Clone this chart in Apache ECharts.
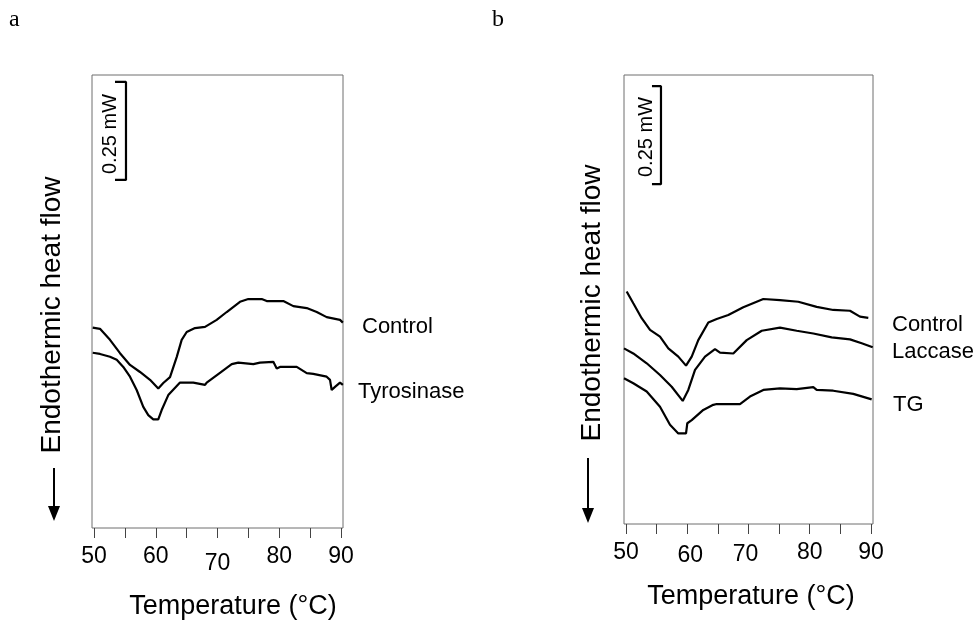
<!DOCTYPE html>
<html><head><meta charset="utf-8">
<script src="https://cdn.jsdelivr.net/npm/echarts@6/dist/echarts.min.js"></script>
<style>html,body{margin:0;padding:0;background:#fff}#c{width:979px;height:622px}</style>
</head><body><div id="c"></div>
<script>
// ---- axis ticks / labels ----
const xTickValues = [50, 55, 60, 65, 70, 75, 80, 85, 90];
const xLabelValues = [50, 60, 70, 80, 90];

// ---- panel a (temperature °C, heat flow mW relative) ----
const aControlT = [49.79,50.97,52.59,54.21,55.83,57.45,59.07,60.41,61.22,62.31,63.39,64.20,65.01,66.36,67.98,69.87,71.49,73.64,74.99,77.16,77.97,80.66,82.28,84.45,86.07,87.68,89.84,90.30];
const aControlMW = [0.511,0.508,0.480,0.446,0.416,0.398,0.378,0.356,0.370,0.385,0.436,0.480,0.500,0.510,0.513,0.531,0.551,0.577,0.584,0.584,0.579,0.579,0.566,0.561,0.551,0.538,0.531,0.524];
const aTyrT = [49.79,50.97,52.59,53.68,54.74,55.83,56.91,57.98,58.79,59.60,60.41,60.96,62.03,63.93,66.08,67.98,68.25,70.40,72.30,73.37,75.80,76.88,79.04,79.59,80.12,82.83,84.45,85.51,87.68,88.22,88.49,89.03,89.84,90.30];
const aTyrMW = [0.447,0.444,0.437,0.429,0.411,0.386,0.352,0.309,0.288,0.277,0.277,0.301,0.339,0.371,0.371,0.365,0.371,0.396,0.418,0.422,0.418,0.422,0.424,0.407,0.411,0.411,0.395,0.393,0.386,0.378,0.352,0.360,0.371,0.365];

// ---- panel b ----
const bControlT = [50.11,51.19,52.56,53.92,55.55,56.91,58.54,59.80,60.73,61.80,63.44,64.81,66.70,69.15,72.42,75.14,78.13,81.13,83.84,86.57,88.20,89.56];
const bControlMW = [0.593,0.563,0.525,0.495,0.478,0.448,0.427,0.404,0.427,0.469,0.514,0.523,0.533,0.553,0.574,0.571,0.567,0.554,0.546,0.544,0.529,0.526];
const bLaccaseT = [49.67,51.19,53.38,55.55,57.46,59.26,60.17,61.27,62.90,64.53,65.35,67.52,69.71,72.16,75.14,77.87,80.58,83.58,86.57,88.48,90.28];
const bLaccaseMW = [0.448,0.435,0.410,0.380,0.350,0.314,0.342,0.393,0.427,0.446,0.437,0.435,0.469,0.493,0.501,0.493,0.486,0.476,0.471,0.461,0.451];
const bTgT = [49.67,51.19,53.38,55.55,57.18,58.54,59.80,60.01,60.73,62.62,64.25,64.53,64.81,68.61,70.24,72.42,75.14,77.87,80.58,81.13,83.84,87.11,90.11];
const bTgMW = [0.372,0.359,0.338,0.299,0.253,0.231,0.231,0.257,0.265,0.291,0.304,0.309,0.306,0.306,0.325,0.342,0.346,0.344,0.349,0.342,0.340,0.332,0.318];

// ---- 0.25 mW scale bars ----
const scaleMW = 0.25;
const aScaleT = [53.40, 55.18, 55.18, 53.40];
const aScaleBase = 0.888;
const bScaleT = [54.24, 55.71, 55.71, 54.24];
const bScaleBase = 0.867;

function zip(xs, ys) { return xs.map((x, i) => [x, ys[i]]); }
function bar(ts, base) { return zip(ts, [base, base, base + scaleMW, base + scaleMW]); }

const FONT = '"Liberation Sans", Arial, sans-serif';
const lineStyle = { color: '#000', width: 2.2 };

function xAxisCfg(gridIndex, min, max, margin, shifts) {
  const rich = { n: { fontSize: 23, fontFamily: FONT, color: '#000' } };
  Object.keys(shifts).forEach(k => {
    const s = shifts[k];
    rich['s' + k] = { fontSize: 23, fontFamily: FONT, color: '#000',
      padding: [Math.max(0, s[1]), Math.max(0, -s[0] * 2), 0, Math.max(0, s[0] * 2)] };
  });
  return {
    type: 'value', gridIndex, min, max, offset: 2,
    splitLine: { show: false },
    axisLine: { show: false },
    axisTick: { show: true, customValues: xTickValues, length: 10, lineStyle: { color: '#444', width: 1 } },
    axisLabel: {
      customValues: xLabelValues, margin,
      formatter: v => (shifts[v] ? '{s' + v + '|' + v + '}' : '{n|' + v + '}'),
      rich
    }
  };
}

const series = [
  { name: 'Control', data: zip(aControlT, aControlMW), xAxisIndex: 0, yAxisIndex: 0 },
  { name: 'Tyrosinase', data: zip(aTyrT, aTyrMW), xAxisIndex: 0, yAxisIndex: 0 },
  { name: 'scaleA', data: bar(aScaleT, aScaleBase), xAxisIndex: 0, yAxisIndex: 0 },
  { name: 'Control b', data: zip(bControlT, bControlMW), xAxisIndex: 1, yAxisIndex: 1 },
  { name: 'Laccase', data: zip(bLaccaseT, bLaccaseMW), xAxisIndex: 1, yAxisIndex: 1 },
  { name: 'TG', data: zip(bTgT, bTgMW), xAxisIndex: 1, yAxisIndex: 1 },
  { name: 'scaleB', data: bar(bScaleT, bScaleBase), xAxisIndex: 1, yAxisIndex: 1 }
].map(s => Object.assign({ type: 'line', showSymbol: false, symbol: 'none', lineStyle, clip: false, animation: false, silent: true }, s));

function txt(x, y, text, opts) {
  return Object.assign({ type: 'text', x, y, style: Object.assign({ text, fill: '#000', font: '22px ' + FONT, align: 'left', verticalAlign: 'middle' }, opts || {}) });
}
function rtxt(x, y, text, size) {
  return { type: 'text', x, y, rotation: Math.PI / 2,
    style: { text, fill: '#000', font: size + 'px ' + FONT, align: 'center', verticalAlign: 'middle' } };
}
function arrow(x, y0, y1) {
  return [
    { type: 'line', shape: { x1: x, y1: y0, x2: x, y2: y1 - 12 }, style: { stroke: '#000', lineWidth: 2 } },
    { type: 'polygon', shape: { points: [[x - 6, y1 - 15], [x + 6, y1 - 15], [x, y1]] }, style: { fill: '#000' } }
  ];
}

const option = {
  backgroundColor: '#fff',
  animation: false,
  grid: [
    { left: 92, top: 75, width: 251, height: 453, show: true, borderColor: '#6e6e6e', borderWidth: 1, backgroundColor: 'transparent', outerBoundsMode: 'none' },
    { left: 624, top: 75, width: 249, height: 449, show: true, borderColor: '#6e6e6e', borderWidth: 1, backgroundColor: 'transparent', outerBoundsMode: 'none' }
  ],
  xAxis: [
    xAxisCfg(0, 49.676, 90.324, 15, { 70: [0, 7] }),
    xAxisCfg(1, 49.673, 90.327, 15, { 60: [3, 3], 70: [-3, 2] })
  ],
  yAxis: [
    { type: 'value', gridIndex: 0, min: 0, max: 453 / 392, show: false, splitLine: { show: false } },
    { type: 'value', gridIndex: 1, min: 0, max: 449 / 392, show: false, splitLine: { show: false } }
  ],
  series,
  graphic: [
    { type: 'text', x: 9, y: 20, style: { text: 'a', fill: '#000', font: '24px "Liberation Serif", "Times New Roman", serif', verticalAlign: 'middle' } },
    { type: 'text', x: 492, y: 20, style: { text: 'b', fill: '#000', font: '24px "Liberation Serif", "Times New Roman", serif', verticalAlign: 'middle' } },
    rtxt(52, 315, 'Endothermic heat flow', 28),
    rtxt(592, 303, 'Endothermic heat flow', 28),
    ...arrow(54, 468, 521),
    ...arrow(588, 458, 523),
    rtxt(110, 134, '0.25 mW', 20),
    rtxt(646, 137, '0.25 mW', 20),
    txt(362, 327, 'Control'),
    txt(358, 392, 'Tyrosinase'),
    txt(892, 325, 'Control'),
    txt(892, 352, 'Laccase'),
    txt(893, 405, 'TG'),
    { type: 'text', x: 233, y: 607, style: { text: 'Temperature (°C)', fill: '#000', font: '27px ' + FONT, align: 'center', verticalAlign: 'middle' } },
    { type: 'text', x: 751, y: 597, style: { text: 'Temperature (°C)', fill: '#000', font: '27px ' + FONT, align: 'center', verticalAlign: 'middle' } }
  ]
};

const chart = echarts.init(document.getElementById('c'), null, { renderer: 'canvas' });
chart.setOption(option);
</script>
</body></html>
